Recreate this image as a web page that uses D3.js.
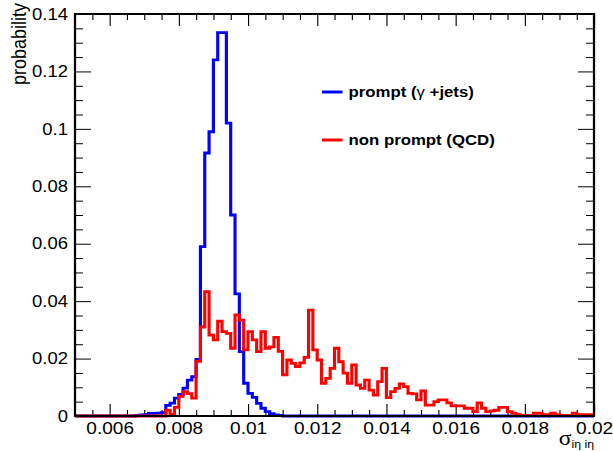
<!DOCTYPE html>
<html>
<head>
<meta charset="utf-8">
<script src="https://cdn.jsdelivr.net/npm/d3@7"></script>
<style>
  html, body { margin: 0; padding: 0; background: #fff; }
  svg { display: block; }
  text { font-family: "Liberation Sans", Arial, Helvetica, sans-serif; fill: #000; }
</style>
</head>
<body>
<script>
// Histogram binning of sigma_ieta_ieta
const xMin = 0.005;
const xMax = 0.02;
const binWidth = 0.000125;

// Axis ticks and labels
const xTickValues = [0.006, 0.008, 0.010, 0.012, 0.014, 0.016, 0.018, 0.020];
const xTickLabels = ["0.006", "0.008", "0.01", "0.012", "0.014", "0.016", "0.018", "0.02"];
const yTickValues = [0, 0.02, 0.04, 0.06, 0.08, 0.10, 0.12, 0.14];
const yTickLabels = ["0", "0.02", "0.04", "0.06", "0.08", "0.1", "0.12", "0.14"];

// Normalised bin contents (probability per bin), one entry per bin from xMin
const prompt = [
  0, 0, 0, 0, 0, 0, 0, 0, 0, 0,
  0, 0, 0, 0, 0.0002, 0.0004, 0.0005, 0.0009, 0.0009, 0.001,
  0.0012, 0.0037, 0.0045, 0.0062, 0.0075, 0.0097, 0.0125, 0.0137, 0.0197, 0.059,
  0.0916, 0.099, 0.124, 0.1335, 0.1335, 0.102, 0.070, 0.0425, 0.0224, 0.0114,
  0.0079, 0.0065, 0.0044, 0.0027, 0.0015, 0.0008, 0.0004, 0.0002, 0, 0,
  0, 0, 0, 0, 0, 0, 0, 0, 0, 0,
  0, 0, 0, 0, 0, 0, 0, 0, 0, 0,
  0, 0, 0, 0, 0, 0, 0, 0, 0, 0,
  0, 0, 0, 0, 0, 0, 0, 0, 0, 0,
  0, 0, 0, 0, 0, 0, 0, 0, 0, 0,
  0, 0, 0, 0, 0, 0, 0, 0, 0, 0,
  0, 0, 0, 0, 0, 0, 0, 0, 0, 0
];
const nonPrompt = [
  0, 0, 0, 0, 0, 0, 0, 0, 0, 0,
  0, 0, 0, 0, 0, 0, 0, 0, 0, 0,
  0, 0.002, 0.0006, 0.003, 0.0068, 0.0085, 0.0078, 0.0062, 0.019, 0.031,
  0.0433, 0.0282, 0.0265, 0.033, 0.0294, 0.0288, 0.0236, 0.0352, 0.0334, 0.023,
  0.0294, 0.0265, 0.0224, 0.0294, 0.0236, 0.0241, 0.0274, 0.0225, 0.0143, 0.0195,
  0.0183, 0.0172, 0.0185, 0.0204, 0.0369, 0.023, 0.0195, 0.0114, 0.0131, 0.0166,
  0.0236, 0.0189, 0.0149, 0.0114, 0.0178, 0.0108, 0.0096, 0.0125, 0.009, 0.0073,
  0.012, 0.0166, 0.0064, 0.0085, 0.0096, 0.0112, 0.0102, 0.0079, 0.0077, 0.0056,
  0.0087, 0.0038, 0.0038, 0.005, 0.0056, 0.0056, 0.0046, 0.0035, 0.0035, 0.0035,
  0.0027, 0.0027, 0.0015, 0.0046, 0.0027, 0.0015, 0.0018, 0.002, 0.003, 0.003,
  0.0015, 0.001, 0.0005, 0.0002, 0.0002, 0.0002, 0.001, 0.001, 0.0005, 0.0005,
  0.001, 0.0005, 0.0002, 0.0002, 0.0002, 0.001, 0.0005, 0.0005, 0.0005, 0.0005
];

const seriesColors = ["#0000ff", "#ff0000"];

// The canvas is drawn in a narrower coordinate system and stretched horizontally
const sx = 1.12;
const W = 613 / sx, H = 451;
const px = v => v / sx; // screen-pixel x to drawing units

const svg = d3.select("body").append("svg")
  .attr("width", 613).attr("height", 451)
  .attr("viewBox", `0 0 ${W} ${H}`)
  .attr("preserveAspectRatio", "none");

const frame = { left: px(75), right: px(594), top: 14, bottom: 416 };

const x = d3.scaleLinear().domain([xMin, xMax]).range([frame.left, frame.right]);
const y = d3.scaleLinear().domain([0, 0.14]).range([frame.bottom, frame.top]);

const xMinor = d3.range(11, 40).filter(i => i % 4 !== 0).map(i => i * 0.0005);
const yMinor = d3.range(1, 28).filter(j => j % 4 !== 0).map(j => j * 0.005);

function styleAxis(g) {
  g.select(".domain").remove();
  g.selectAll(".tick line").attr("stroke", "#000").attr("stroke-width", 1);
}

// Bottom axis with labels
svg.append("g").attr("transform", `translate(0,${frame.bottom})`)
  .call(d3.axisBottom(x).tickValues(xTickValues).tickSize(-12).tickPadding(6)
    .tickFormat((d, i) => xTickLabels[i]))
  .call(styleAxis)
  .call(g => g.selectAll("text").attr("font-size", 17).attr("font-family", null));
svg.append("g").attr("transform", `translate(0,${frame.bottom})`)
  .call(d3.axisBottom(x).tickValues(xMinor).tickSize(-6).tickFormat(""))
  .call(styleAxis);

// Top axis (ticks only)
svg.append("g").attr("transform", `translate(0,${frame.top})`)
  .call(d3.axisTop(x).tickValues(xTickValues).tickSize(-12).tickFormat(""))
  .call(styleAxis);
svg.append("g").attr("transform", `translate(0,${frame.top})`)
  .call(d3.axisTop(x).tickValues(xMinor).tickSize(-6).tickFormat(""))
  .call(styleAxis);

// Left axis with labels
svg.append("g").attr("transform", `translate(${frame.left},0)`)
  .call(d3.axisLeft(y).tickValues(yTickValues).tickSize(-px(16)).tickPadding(px(7))
    .tickFormat((d, i) => yTickLabels[i]))
  .call(styleAxis)
  .call(g => g.selectAll("text").attr("font-size", 16.5).attr("font-family", null));
svg.append("g").attr("transform", `translate(${frame.left},0)`)
  .call(d3.axisLeft(y).tickValues(yMinor).tickSize(-px(8)).tickFormat(""))
  .call(styleAxis);

// Right axis (ticks only)
svg.append("g").attr("transform", `translate(${frame.right},0)`)
  .call(d3.axisRight(y).tickValues(yTickValues).tickSize(-px(16)).tickFormat(""))
  .call(styleAxis);
svg.append("g").attr("transform", `translate(${frame.right},0)`)
  .call(d3.axisRight(y).tickValues(yMinor).tickSize(-px(8)).tickFormat(""))
  .call(styleAxis);

// Histograms drawn as step outlines
const edges = d3.range(prompt.length + 1).map(i => xMin + i * binWidth);
const step = d3.line().x(d => x(d[0])).y(d => y(d[1])).curve(d3.curveStepAfter);
function outline(values) {
  const pts = values.map((v, i) => [edges[i], v]);
  pts.push([edges[values.length], values[values.length - 1]]);
  return pts;
}
[prompt, nonPrompt].forEach((vals, i) => {
  svg.append("path")
    .attr("d", step(outline(vals)))
    .attr("fill", "none")
    .attr("stroke", seriesColors[i])
    .attr("stroke-width", 2.8)
    .attr("stroke-linejoin", "miter");
});

// Frame
svg.append("rect")
  .attr("x", frame.left).attr("y", frame.top)
  .attr("width", frame.right - frame.left).attr("height", frame.bottom - frame.top)
  .attr("fill", "none").attr("stroke", "#000").attr("stroke-width", 2);

// Axis titles
const xTitle = svg.append("text")
  .attr("x", frame.right).attr("y", 445)
  .attr("text-anchor", "end");
xTitle.append("tspan").text("σ")
  .attr("font-family", "'Liberation Serif', 'DejaVu Serif', serif").attr("font-size", 21);
xTitle.append("tspan").text("iη iη").attr("font-size", 11).attr("dy", 3);

svg.append("text")
  .attr("transform", `translate(${px(26)},3) rotate(-90)`)
  .attr("text-anchor", "end")
  .attr("font-size", 18)
  .text("probability");

// Legend
const legendItems = [
  { parts: [["prompt (", "bold"], ["γ", "normal"], [" +jets)", "bold"]], y: 92 },
  { parts: [["non prompt (QCD)", "bold"]], y: 140 }
];
legendItems.forEach((item, i) => {
  svg.append("line")
    .attr("x1", px(322)).attr("x2", px(342.5))
    .attr("y1", item.y).attr("y2", item.y)
    .attr("stroke", seriesColors[i]).attr("stroke-width", 3);
  const t = svg.append("text")
    .attr("x", px(348.5)).attr("y", item.y + 5)
    .attr("font-size", 15);
  item.parts.forEach(([s, w]) => t.append("tspan").attr("font-weight", w).text(s));
});
</script>
</body>
</html>
